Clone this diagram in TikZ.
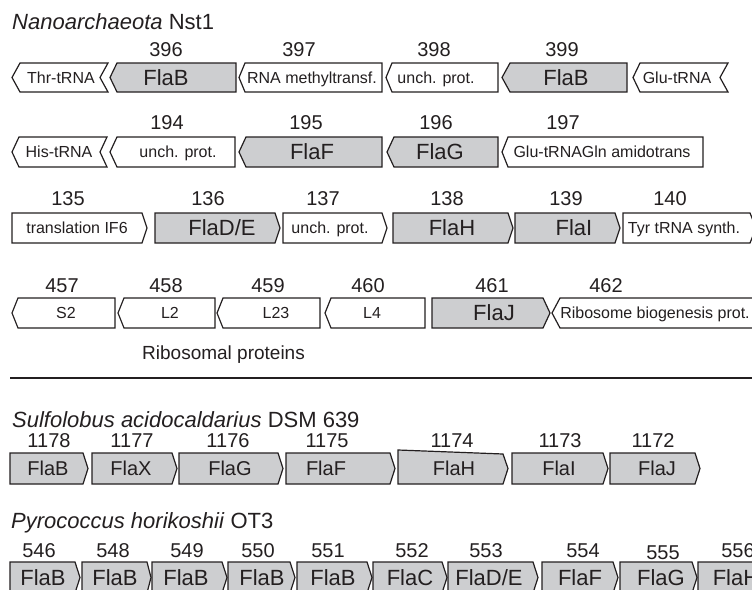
\documentclass[tikz,border=0pt]{standalone}
\usepackage{fontspec}
\setmainfont{Liberation Sans}
\definecolor{flagray}{RGB}{205,206,208}
\definecolor{mapink}{RGB}{35,31,32}
% row geometry: top and bottom of the gene boxes
\newcommand{\setrow}[2]{\def\rtop{#1}\def\rbot{#2}\pgfmathsetmacro{\rmid}{(#1+#2)/2}}
% gene pointing right: left, body right, tip
\newcommand{\geneR}[4][]{\draw[genebox,#1] (#2,\rtop) -- (#3,\rtop) -- (#4,\rmid) -- (#3,\rbot) -- (#2,\rbot) -- cycle;}
% gene pointing left: tip, body left, right
\newcommand{\geneL}[4][]{\draw[genebox,#1] (#2,\rmid) -- (#3,\rtop) -- (#4,\rtop) -- (#4,\rbot) -- (#3,\rbot) -- cycle;}
% tRNA chevron: tip, body left, notch, right
\newcommand{\geneT}[5][]{\draw[genebox,#1] (#2,\rmid) -- (#3,\rtop) -- (#5,\rtop) -- (#4,\rmid) -- (#5,\rbot) -- (#3,\rbot) -- cycle;}
\begin{document}
\begin{tikzpicture}[x=1pt, y=-1pt,
  genebox/.style={draw=mapink, line width=1.2pt, line join=miter, fill=white},
  fla/.style={fill=flagray},
  numlbl/.style={anchor=base, inner sep=0pt, text=mapink, font=\fontsize{20}{24}\selectfont},
  biglbl/.style={anchor=base, inner sep=0pt, text=mapink, yshift=-7.9pt, font=\fontsize{22}{26}\selectfont},
  midlbl/.style={anchor=base, inner sep=0pt, text=mapink, yshift=-7.2pt, font=\fontsize{20}{24}\selectfont},
  smalllbl/.style={anchor=base, inner sep=0pt, text=mapink, yshift=-5.7pt, font=\fontsize{16}{19}\selectfont},
  titlelbl/.style={anchor=base west, inner sep=0pt, text=mapink, font=\fontsize{22}{26}\selectfont}]
\useasboundingbox (0,0) rectangle (752,589);
% Nanoarchaeota
\node[titlelbl] (nanotitle) at (12,29) {\textit{Nanoarchaeota} Nst1};
% Row 396-399
\setrow{63}{92}
\geneT{12}{20}{100}{108}
\geneL[fla]{110}{117}{236}
\geneL{239}{245}{382}
\geneL{386}{392}{498}
\geneL[fla]{502}{510}{627}
\geneT{633}{640}{720}{728}
\node[smalllbl] (g395) at (61,\rmid) {Thr-tRNA};
\node[biglbl] (g396) at (166,\rmid) {FlaB};
\node[smalllbl] (g397) at (312,\rmid) {RNA methyltransf.};
\node[smalllbl] (g398) at (436,\rmid) {unch. prot.};
\node[biglbl] (g399) at (566,\rmid) {FlaB};
\node[smalllbl] (g400) at (677,\rmid) {Glu-tRNA};
\node[numlbl] (n396) at (166,56) {396};
\node[numlbl] (n397) at (299,56) {397};
\node[numlbl] (n398) at (434,56) {398};
\node[numlbl] (n399) at (562,56) {399};
% Row 194-197
\setrow{137}{167}
\geneT{12}{19}{100}{107}
\geneL{110}{117}{235}
\geneL[fla]{239}{246}{382}
\geneL[fla]{387}{394}{498}
\geneL{502}{508}{703}
\node[smalllbl] (g193) at (59,\rmid) {His-tRNA};
\node[smalllbl] (g194) at (178,\rmid) {unch. prot.};
\node[biglbl] (g195) at (312,\rmid) {FlaF};
\node[biglbl] (g196) at (440,\rmid) {FlaG};
\node[smalllbl] (g197) at (602,\rmid) {Glu-tRNAGln amidotrans};
\node[numlbl] (n194) at (167,129) {194};
\node[numlbl] (n195) at (306,129) {195};
\node[numlbl] (n196) at (436,129) {196};
\node[numlbl] (n197) at (563,129) {197};
% Row 135-140
\setrow{213}{243}
\geneR{12}{142}{147}
\geneR[fla]{155}{275}{280}
\geneR{283}{382}{387}
\geneR[fla]{393}{508}{513}
\geneR[fla]{515}{615}{620}
\geneR{623}{750}{756}
\node[smalllbl] (g135) at (77,\rmid) {translation IF6};
\node[biglbl] (g136) at (222,\rmid) {FlaD/E};
\node[smalllbl] (g137) at (330,\rmid) {unch. prot.};
\node[biglbl] (g138) at (452,\rmid) {FlaH};
\node[biglbl] (g139) at (574,\rmid) {FlaI};
\node[smalllbl] (g140) at (684,\rmid) {Tyr tRNA synth.};
\node[numlbl] (n135) at (68,205) {135};
\node[numlbl] (n136) at (208,205) {136};
\node[numlbl] (n137) at (323,205) {137};
\node[numlbl] (n138) at (447,205) {138};
\node[numlbl] (n139) at (566,205) {139};
\node[numlbl] (n140) at (670,205) {140};
% Row 457-462
\setrow{298}{328}
\geneL{12}{18}{115}
\geneL{118}{124}{215}
\geneL{217}{223}{320}
\geneL{325}{331}{425}
\geneR[fla]{432}{543}{550}
\geneL{552}{560}{765}
\node[smalllbl] (g457) at (66,\rmid) {S2};
\node[smalllbl] (g458) at (170,\rmid) {L2};
\node[smalllbl] (g459) at (276,\rmid) {L23};
\node[smalllbl] (g460) at (372,\rmid) {L4};
\node[biglbl] (g461) at (494,\rmid) {FlaJ};
\node[smalllbl] (g462) at (655,\rmid) {Ribosome biogenesis prot.};
\node[numlbl] (n457) at (62,292) {457};
\node[numlbl] (n458) at (166,292) {458};
\node[numlbl] (n459) at (268,292) {459};
\node[numlbl] (n460) at (368,292) {460};
\node[numlbl] (n461) at (492,292) {461};
\node[numlbl] (n462) at (606,292) {462};
\node[anchor=base west, inner sep=0pt, text=mapink, font=\fontsize{19}{23}\selectfont] (ribo) at (142,359) {Ribosomal proteins};
% Separator
\draw[mapink, line width=2pt] (10,378) -- (752,378);
% Sulfolobus
\node[titlelbl] (sulftitle) at (12,427) {\textit{Sulfolobus acidocaldarius} DSM 639};
\setrow{453}{484}
\geneR[fla]{10}{83}{88}
\geneR[fla]{92}{172}{177}
\geneR[fla]{179}{278}{283}
\geneR[fla]{286}{390}{395}
\draw[genebox,fla] (398,450) -- (503,454) -- (508,\rmid) -- (503,\rbot) -- (398,\rbot) -- cycle;
\geneR[fla]{512}{603}{608}
\geneR[fla]{610}{695}{700}
\node[midlbl] (s1178) at (48,\rmid) {FlaB};
\node[midlbl] (s1177) at (131,\rmid) {FlaX};
\node[midlbl] (s1176) at (230,\rmid) {FlaG};
\node[midlbl] (s1175) at (326,\rmid) {FlaF};
\node[midlbl] (s1174) at (454,\rmid) {FlaH};
\node[midlbl] (s1173) at (559,\rmid) {FlaI};
\node[midlbl] (s1172) at (657,\rmid) {FlaJ};
\node[numlbl] (m1178) at (49,447) {1178};
\node[numlbl] (m1177) at (132,447) {1177};
\node[numlbl] (m1176) at (228,447) {1176};
\node[numlbl] (m1175) at (327,447) {1175};
\node[numlbl] (m1174) at (452,447) {1174};
\node[numlbl] (m1173) at (560,447) {1173};
\node[numlbl] (m1172) at (653,447) {1172};
% Pyrococcus
\node[titlelbl] (pyrotitle) at (11,528) {\textit{Pyrococcus horikoshii} OT3};
\setrow{562}{593}
\geneR[fla]{10}{75}{80}
\geneR[fla]{82}{147}{151}
\geneR[fla]{152}{222}{227}
\geneR[fla]{228}{290}{295}
\geneR[fla]{297}{367}{372}
\geneR[fla]{373}{442}{447}
\geneR[fla]{448}{533}{538}
\geneR[fla]{542}{613}{618}
\geneR[fla]{620}{692}{697}
\geneR[fla]{698}{765}{770}
\node[biglbl] (p546) at (43,\rmid) {FlaB};
\node[biglbl] (p548) at (115,\rmid) {FlaB};
\node[biglbl] (p549) at (186,\rmid) {FlaB};
\node[biglbl] (p550) at (262,\rmid) {FlaB};
\node[biglbl] (p551) at (333,\rmid) {FlaB};
\node[biglbl] (p552) at (410,\rmid) {FlaC};
\node[biglbl] (p553) at (489,\rmid) {FlaD/E};
\node[biglbl] (p554) at (580,\rmid) {FlaF};
\node[biglbl] (p555) at (661,\rmid) {FlaG};
\node[biglbl] (p556) at (736,\rmid) {FlaH};
\node[numlbl] (q546) at (39,557) {546};
\node[numlbl] (q548) at (113,557) {548};
\node[numlbl] (q549) at (187,557) {549};
\node[numlbl] (q550) at (258,557) {550};
\node[numlbl] (q551) at (328,557) {551};
\node[numlbl] (q552) at (412,557) {552};
\node[numlbl] (q553) at (486,557) {553};
\node[numlbl] (q554) at (583,557) {554};
\node[numlbl] (q555) at (663,559) {555};
\node[numlbl] (q556) at (738,557) {556};
\end{tikzpicture}
\end{document}
